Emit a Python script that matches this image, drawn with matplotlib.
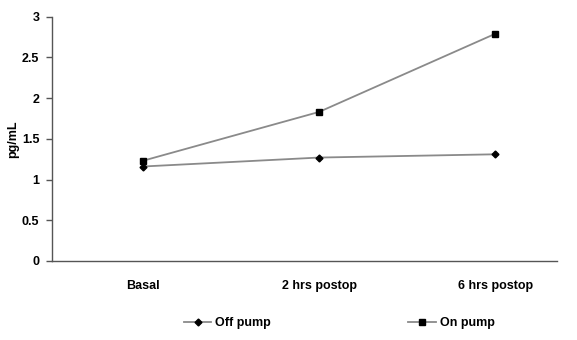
import matplotlib.pyplot as plt

# -----------------------------
# Data
# -----------------------------
categories = ["Basal", "2 hrs postop", "6 hrs postop"]
off_pump = [1.16, 1.27, 1.31]
on_pump = [1.23, 1.83, 2.79]
y_ticks = [0, 0.5, 1, 1.5, 2, 2.5, 3]

plt.rcParams["font.family"] = ["Liberation Sans", "DejaVu Sans"]

fig = plt.figure(figsize=(5.77, 3.40), dpi=100)
ax = fig.add_axes([0.0901, 0.2324, 0.8752, 0.7186])

x = list(range(len(categories)))
ax.plot(x, off_pump, color="#8a8a8a", linewidth=1.3, marker="D", markersize=3.5,
        markerfacecolor="black", markeredgecolor="black", label="Off pump")
ax.plot(x, on_pump, color="#8a8a8a", linewidth=1.3, marker="s", markersize=5,
        markerfacecolor="black", markeredgecolor="black", label="On pump")

ax.set_xlim(-0.515, 2.35)
ax.set_ylim(0, 3)
ax.set_yticks(y_ticks)
ax.set_yticklabels([f"{v:g}" for v in y_ticks], fontsize=9, fontweight="bold")
ax.set_xticks(x)
ax.set_xticklabels(categories, fontsize=9, fontweight="bold")
ax.tick_params(axis="x", length=0, pad=14)
ax.tick_params(axis="y", length=4, width=1, color="#555555", pad=5)

ax.set_ylabel("pg/mL", fontsize=9, fontweight="bold", labelpad=2)

for side in ["top", "right"]:
    ax.spines[side].set_visible(False)
for side in ["left", "bottom"]:
    ax.spines[side].set_color("#555555")
    ax.spines[side].set_linewidth(1)

fig.legend(loc="center", bbox_to_anchor=(0.588, 0.05), ncol=2, frameon=False,
           prop={"size": 9, "weight": "bold"}, columnspacing=11, handlelength=2.2,
           handletextpad=0.3)

fig.savefig("out.png", dpi=100)
